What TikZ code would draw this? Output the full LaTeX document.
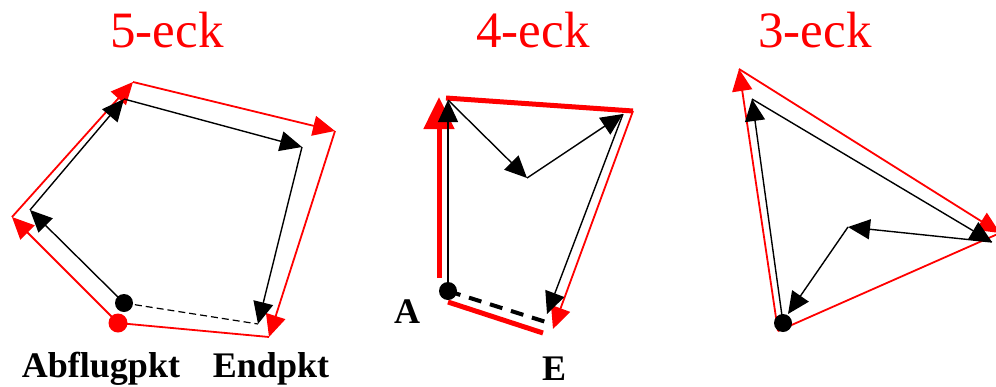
\documentclass[tikz,border=0pt]{standalone}
\usepackage{fontspec}
\setmainfont{Liberation Serif}
\newfontfamily\timesface{Liberation Serif}
\usetikzlibrary{arrows.meta, positioning}
\tikzset{
  % Route styles
  redroute/.style={red, line width=1.8pt},
  redthick/.style={red, line width=5pt},
  blackroute/.style={black, line width=1.4pt},
  headed/.style={-{Triangle[length=22pt, width=20pt]}},
  bighead/.style={-{Triangle[length=32pt, width=30pt]}},
  backdash/.style={dash pattern=on 7pt off 4pt, line width=1.2pt},
  backdashthick/.style={dash pattern=on 13pt off 9pt, line width=4pt},
  % Points and labels
  blackdot/.style={circle, fill=black, inner sep=0pt, minimum size=18pt},
  reddot/.style={circle, fill=red, inner sep=0pt, minimum size=19pt},
  title/.style={text=red, font=\timesface\fontsize{51}{60}\selectfont, anchor=base},
  ptlabel/.style={font=\timesface\fontsize{36}{42}\selectfont\bfseries, anchor=base},
}

\begin{document}
\begin{tikzpicture}[x=1pt, y=-1pt]
    \useasboundingbox (0,0) rectangle (996,386);

    % Titles
    \node[title] (t5) at (167,47) {5-eck};
    \node[title] (t4) at (533,47) {4-eck};
    \node[title] (t3) at (815,47) {3-eck};

    % === 5-eck ===
    \coordinate (r1) at (118,323);
    \coordinate (r2) at (12,217);
    \coordinate (r3) at (133,82);
    \coordinate (r4) at (335,131);
    \coordinate (r5) at (269,337);
    \coordinate (b1) at (30,210);
    \coordinate (b2) at (124,99);
    \coordinate (b3) at (302,147);
    \coordinate (b4) at (258,324);

    \draw[redroute, headed] (r1) -- (r2);
    \draw[redroute, headed] (r2) -- (r3);
    \draw[redroute, headed] (r3) -- (r4);
    \draw[redroute, headed] (r4) -- (r5);
    \draw[redroute] (r5) -- (r1);
    \node[reddot] (start5) at (r1) {};

    \node[blackdot] (dot5) at (124,303) {};
    \draw[blackroute, headed] (dot5.center) -- (b1);
    \draw[blackroute, headed] (b1) -- (b2);
    \draw[blackroute, headed] (b2) -- (b3);
    \draw[blackroute, headed] (b3) -- (b4);
    \draw[backdash] (dot5.center) -- (b4);

    \node[ptlabel] (abflug) at (101,377) {Abflugpkt};
    \node[ptlabel] (endpkt) at (271,377) {Endpkt};

    % === 4-eck ===
    \coordinate (q1) at (439,278);
    \coordinate (q2) at (439,97);
    \coordinate (q3) at (446,98);
    \coordinate (q4) at (633,111);
    \coordinate (q5) at (553,329);
    \coordinate (q6) at (448,302);
    \coordinate (q7) at (543,333);
    \coordinate (c1) at (448,100);
    \coordinate (c2) at (527,178);
    \coordinate (c3) at (623,114);
    \coordinate (c4) at (547,314);
    \coordinate (c5) at (546,322);

    \draw[redthick, bighead] (q1) -- (q2);
    \draw[redthick] (q3) -- (q4);
    \draw[redroute, headed] (q4) -- (q5);
    \draw[redthick] (q6) -- (q7);

    \node[blackdot] (dot4) at (448,291) {};
    \draw[blackroute, headed] (dot4.center) -- (c1);
    \draw[blackroute, headed] (c1) -- (c2);
    \draw[blackroute, headed] (c2) -- (c3);
    \draw[blackroute, headed] (c3) -- (c4);
    \draw[backdashthick] (dot4.center) -- (c5);

    \node[ptlabel] (lblA) at (407,323) {A};
    \node[ptlabel] (lblE) at (554,380) {E};

    % === 3-eck ===
    \coordinate (s1) at (778,331);
    \coordinate (s2) at (739,69);
    \coordinate (s3) at (1000,233);
    \coordinate (d1) at (752,99);
    \coordinate (d2) at (992,242);
    \coordinate (d3) at (848,227);
    \coordinate (d4) at (788,314);

    \draw[redroute, headed] (s1) -- (s2);
    \draw[redroute, headed] (s2) -- (s3);
    \draw[redroute] (s3) -- (s1);

    \node[blackdot] (dot3) at (783,323) {};
    \draw[blackroute, headed] (dot3.center) -- (d1);
    \draw[blackroute, headed] (d1) -- (d2);
    \draw[blackroute, headed] (d2) -- (d3);
    \draw[blackroute, headed] (d3) -- (d4);
\end{tikzpicture}
\end{document}
